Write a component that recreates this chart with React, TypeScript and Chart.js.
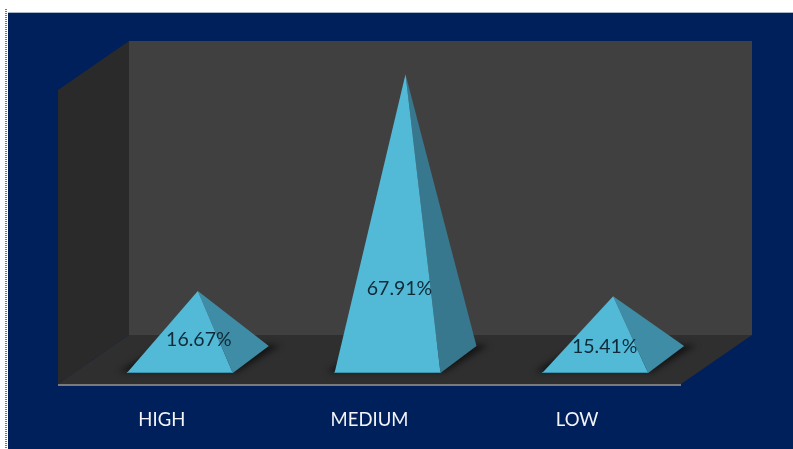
import { useEffect, useRef } from "react";
import { Chart, BarController, BarElement, CategoryScale, LinearScale } from "chart.js";

const categories = ["HIGH", "MEDIUM", "LOW"];
const shares = [16.67, 67.91, 15.41];
const labelNudgeX = [1, -6, -8.5];
const labelLift = [21.5, 72.5, 14.5];

const NAVY = "#00205c";
const WALL_BACK = "#404040";
const WALL_SIDE = "#2a2a2a";
const FLOOR = "#2f2f2f";
const FACE = "#52b9d6";
const SIDE_COLOURS = ["#3f8ca6", "#38788e", "#3f8ca6"];

// Perspective offsets of the 3D box, in canvas pixels.
const BOX_DX = 71;
const BOX_FRONT = 22.5;
const BOX_BACK = 26.5;
const BOX_WALL = 24.5;
const BASE_FRONT = 11.5;
const BASE_BACK = 15.5;
const BASE_DX = 36;
const BASE_SHIFT = 18;

class PyramidElement extends BarElement {
  static id = "pyramid";
  static defaults = BarElement.defaults;
  static defaultRoutes = BarElement.defaultRoutes;

  draw(ctx: CanvasRenderingContext2D) {
    const { x, y, base, width } = (this as any).getProps(["x", "y", "base", "width"]);
    const opts = (this as any).options;
    const fl = x + BASE_SHIFT - width / 2;
    const fr = x + BASE_SHIFT + width / 2;
    const fy = base + BASE_FRONT;
    const by = base - BASE_BACK;
    const apexX = x + BASE_DX;

    // Soft contact shadow on the floor around the base.
    ctx.save();
    ctx.filter = "blur(3px)";
    ctx.fillStyle = "rgba(0,0,0,0.6)";
    ctx.beginPath();
    ctx.moveTo(fl - 8, fy - 1);
    ctx.lineTo(fr + 4, fy - 1);
    ctx.lineTo(fr + BASE_DX + 12, by - 1);
    ctx.lineTo(fl + BASE_DX, by - 1);
    ctx.closePath();
    ctx.fill();
    ctx.restore();

    ctx.fillStyle = opts.borderColor;
    ctx.beginPath();
    ctx.moveTo(fr, fy);
    ctx.lineTo(fr + BASE_DX, by);
    ctx.lineTo(apexX, y);
    ctx.closePath();
    ctx.fill();

    ctx.fillStyle = opts.backgroundColor;
    ctx.beginPath();
    ctx.moveTo(fl, fy);
    ctx.lineTo(fr, fy);
    ctx.lineTo(apexX, y);
    ctx.closePath();
    ctx.fill();

    ctx.strokeStyle = "#3d93ab";
    ctx.lineWidth = 1;
    ctx.beginPath();
    ctx.moveTo(fl, fy - 0.5);
    ctx.lineTo(fr, fy - 0.5);
    ctx.stroke();
  }
}

class PyramidController extends BarController {
  static id = "pyramid";
  static defaults = { ...BarController.defaults, dataElementType: "pyramid" };
  static overrides = BarController.overrides;
}

Chart.register(CategoryScale, LinearScale, PyramidElement, PyramidController);

// Page frame and the three box planes, painted underneath the axis.
const boxPlugin = {
  id: "box",
  beforeDraw(chart: Chart) {
    const { ctx, chartArea: a, width, height } = chart;
    ctx.save();
    ctx.fillStyle = "#ffffff";
    ctx.fillRect(0, 0, width, height);
    ctx.fillStyle = NAVY;
    ctx.fillRect(8, 13, width - 8, height - 13);
    ctx.fillStyle = "#a9b5c9";
    ctx.fillRect(8, 12, width - 8, 1);
    ctx.fillStyle = "#777777";
    for (let py = 9; py < height; py += 2) ctx.fillRect(5, py, 2, 1);

    const poly = (fill: string, pts: number[][]) => {
      ctx.fillStyle = fill;
      ctx.beginPath();
      pts.forEach(([px, py], i) => (i ? ctx.lineTo(px, py) : ctx.moveTo(px, py)));
      ctx.closePath();
      ctx.fill();
    };
    const frontY = a.bottom + BOX_FRONT;
    const backY = a.bottom - BOX_BACK;
    poly(WALL_BACK, [[a.left + BOX_DX, a.top - BOX_WALL], [a.right + BOX_DX, a.top - BOX_WALL], [a.right + BOX_DX, backY], [a.left + BOX_DX, backY]]);
    poly(WALL_SIDE, [[a.left, a.top + BOX_WALL], [a.left + BOX_DX, a.top - BOX_WALL], [a.left + BOX_DX, backY], [a.left, frontY]]);
    poly(FLOOR, [[a.left, frontY], [a.left + BOX_DX, backY], [a.right + BOX_DX, backY], [a.right, frontY]]);
    ctx.fillStyle = "#7a7a7a";
    ctx.fillRect(a.left, frontY, a.right - a.left, 2);
    ctx.restore();
  },
};

// Percentage captions over each pyramid.
const captionPlugin = {
  id: "captions",
  afterDatasetsDraw(chart: Chart) {
    const { ctx } = chart;
    const meta = chart.getDatasetMeta(0);
    ctx.save();
    ctx.font = "19.5px Lato";
    ctx.fillStyle = "#0f2a38";
    ctx.textAlign = "center";
    ctx.textBaseline = "middle";
    meta.data.forEach((el: any, i: number) => {
      ctx.fillText(`${shares[i].toFixed(2)}%`, el.x + BASE_DX + labelNudgeX[i], el.base - labelLift[i]);
    });
    ctx.restore();
  },
};

export default function App() {
  const ref = useRef<HTMLCanvasElement>(null);
  useEffect(() => {
    const chart = new Chart(ref.current!, {
      type: "pyramid" as any,
      data: {
        labels: categories,
        datasets: [
          {
            data: shares,
            backgroundColor: FACE,
            borderColor: SIDE_COLOURS,
            borderWidth: 0,
            categoryPercentage: 1,
            barPercentage: 0.51,
            clip: false,
          },
        ],
      },
      options: {
        animation: false,
        responsive: false,
        layout: { padding: { left: 58, right: 112, top: 65.5, bottom: 0 } },
        plugins: { legend: { display: false }, tooltip: { enabled: false } },
        scales: {
          x: {
            type: "category",
            offset: true,
            border: { display: false },
            grid: { display: false },
            ticks: { color: "#f2f4f8", font: { family: "Lato", size: 18.5 }, padding: 39, maxRotation: 0 },
            afterFit(scale: any) {
              scale.height = 87.5;
            },
          },
          y: { type: "linear", display: false, min: 0, max: 70 },
        },
      } as any,
      plugins: [boxPlugin, captionPlugin],
    });
    return () => chart.destroy();
  }, []);
  return (
    <canvas
      ref={ref}
      width={793}
      height={449}
      style={{ position: "absolute", left: 0, top: 0, display: "block" }}
    />
  );
}
